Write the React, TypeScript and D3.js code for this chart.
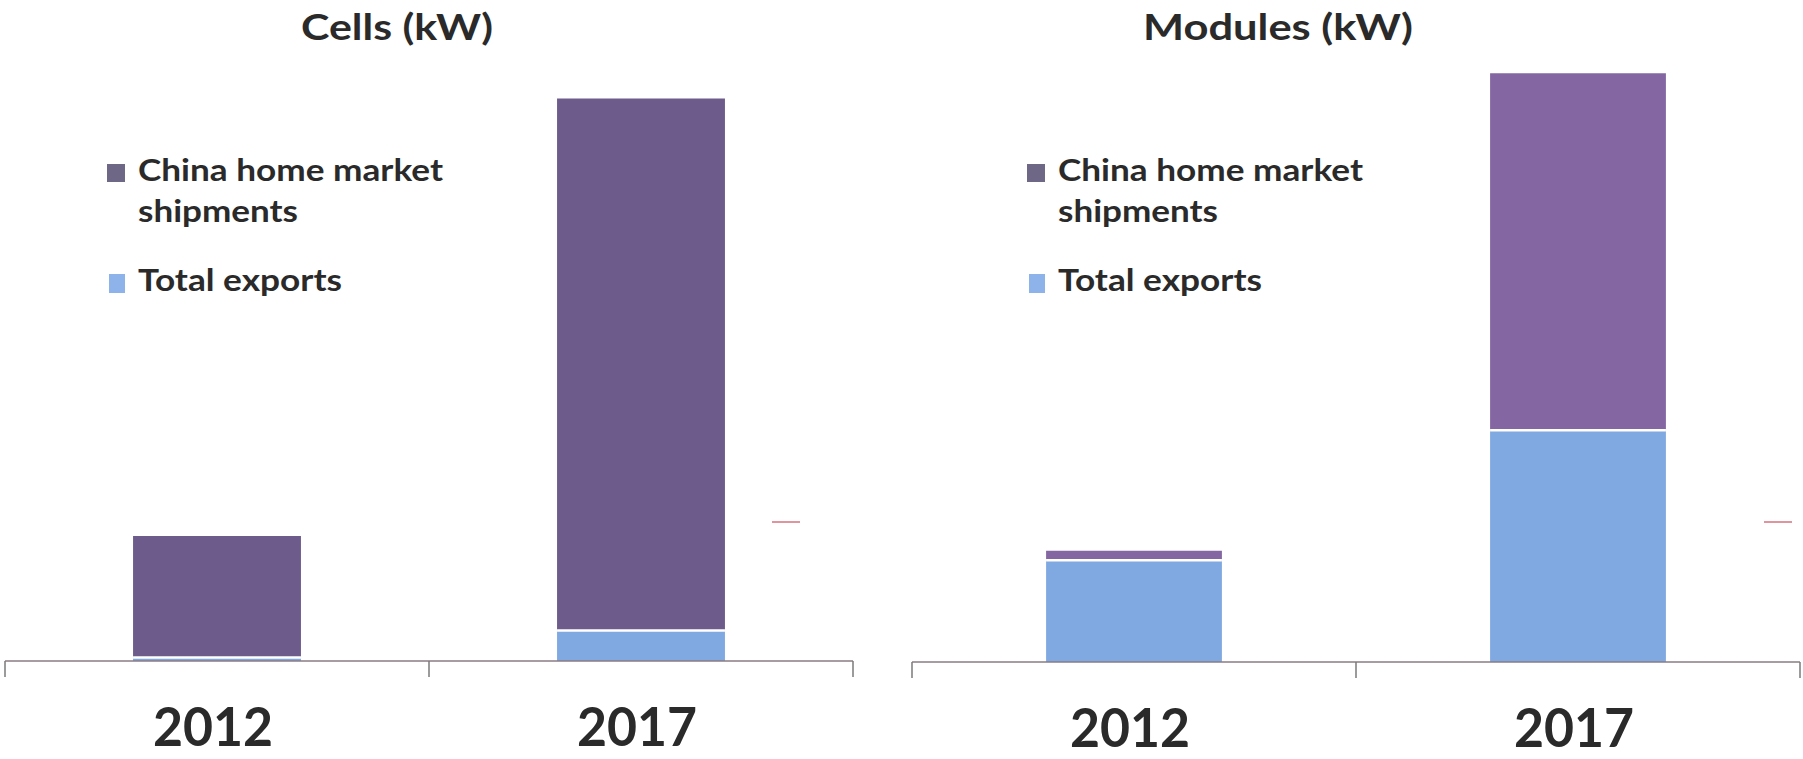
import * as React from 'react';
import { scaleBand, scaleLinear } from 'd3';

// values (same arbitrary kW scale in both panels)
const years = ['2012', '2017'];
const cellsExports = [0.25, 2.4];
const cellsHome = [9.75, 42.6];
const modulesExports = [8.1, 18.5];
const modulesHome = [0.8, 28.6];
const legendHome = ['China home market', 'shipments'];
const legendExports = 'Total exports';

const FONT = 'Lato, "Open Sans", sans-serif';
const TEXT = '#2a2a2a';
const BLUE = '#80a9e2';

interface PanelProps {
  title: string;
  titleX: number;
  titleW: number;
  x0: number;
  x1: number;
  axisY: number;
  exports: number[];
  home: number[];
  homeColor: string;
  legendX: number;
  dashX: number;
  labelY: number;
}

function Panel({ title, titleX, titleW, x0, x1, axisY, exports, home, homeColor, legendX, dashX, labelY }: PanelProps) {
  const x = scaleBand<string>().domain(years).range([x0, x1]).padding(0);
  const y = scaleLinear().domain([0, 50]).range([axisY, axisY - 625]);
  const bw = x.bandwidth() * 0.396;

  return (
    <g>
      <text x={titleX} y={40} textAnchor="middle" fontFamily={FONT} fontWeight={700}
        fontSize={37} fill={TEXT} textLength={titleW} lengthAdjust="spacingAndGlyphs">{title}</text>

      {/* legend */}
      <rect x={legendX} y={164} width={18} height={18} fill="#6f6786" />
      <text x={legendX + 31} y={181} fontFamily={FONT} fontWeight={700} fontSize={30} fill={TEXT}
        textLength={305} lengthAdjust="spacingAndGlyphs">{legendHome[0]}</text>
      <text x={legendX + 31} y={222} fontFamily={FONT} fontWeight={700} fontSize={30} fill={TEXT}
        textLength={160} lengthAdjust="spacingAndGlyphs">{legendHome[1]}</text>
      <rect x={legendX + 2} y={274} width={16} height={19} fill="#8db3ea" />
      <text x={legendX + 31} y={291} fontFamily={FONT} fontWeight={700} fontSize={30} fill={TEXT}
        textLength={204} lengthAdjust="spacingAndGlyphs">{legendExports}</text>

      {/* stacked bars */}
      {years.map((yr, i) => {
        const cx = (x(yr) ?? 0) + x.bandwidth() / 2;
        const e = exports[i];
        const h = home[i];
        return (
          <g key={yr}>
            <rect x={cx - bw / 2} y={y(e)} width={bw} height={y(0) - y(e)} fill={BLUE} />
            <rect x={cx - bw / 2} y={y(e + h)} width={bw} height={y(e) - y(e + h)} fill={homeColor} />
            <line x1={cx - bw / 2} x2={cx + bw / 2} y1={y(e) - 0.5} y2={y(e) - 0.5} stroke="#fff" strokeWidth={2.5} />
          </g>
        );
      })}

      {/* category axis */}
      <line x1={x0} x2={x1} y1={axisY} y2={axisY} stroke="#8a7b82" strokeWidth={1.6} />
      {[x0, x0 + x.bandwidth(), x1].map((t, i) => (
        <line key={i} x1={t} x2={t} y1={axisY} y2={axisY + 16} stroke="#7a7a7a" strokeWidth={1.5} />
      ))}
      {years.map(yr => (
        <text key={yr} x={(x(yr) ?? 0) + x.bandwidth() / 2 - 4} y={labelY} textAnchor="middle"
          fontFamily={FONT} fontWeight={700} fontSize={54} fill={TEXT}
          textLength={120} lengthAdjust="spacingAndGlyphs">{yr}</text>
      ))}

      {/* small stray dash at right */}
      <line x1={dashX} x2={dashX + 28} y1={522} y2={522} stroke="#d4707e" strokeWidth={1.5} />
    </g>
  );
}

export default function App() {
  return (
    <>
      <style>{'body{margin:0;background:#fff}'}</style>
      <svg width={1803} height={759} style={{ display: 'block' }}>
        <rect width={1803} height={759} fill="#fff" />
        <Panel title="Cells (kW)" titleX={397} titleW={192} x0={5} x1={853} axisY={661}
          exports={cellsExports} home={cellsHome} homeColor="#6d5c8b"
          legendX={107} dashX={772} labelY={746} />
        <Panel title="Modules (kW)" titleX={1278} titleW={270} x0={912} x1={1800} axisY={662}
          exports={modulesExports} home={modulesHome} homeColor="#8467a2"
          legendX={1027} dashX={1764} labelY={747} />
      </svg>
    </>
  );
}
